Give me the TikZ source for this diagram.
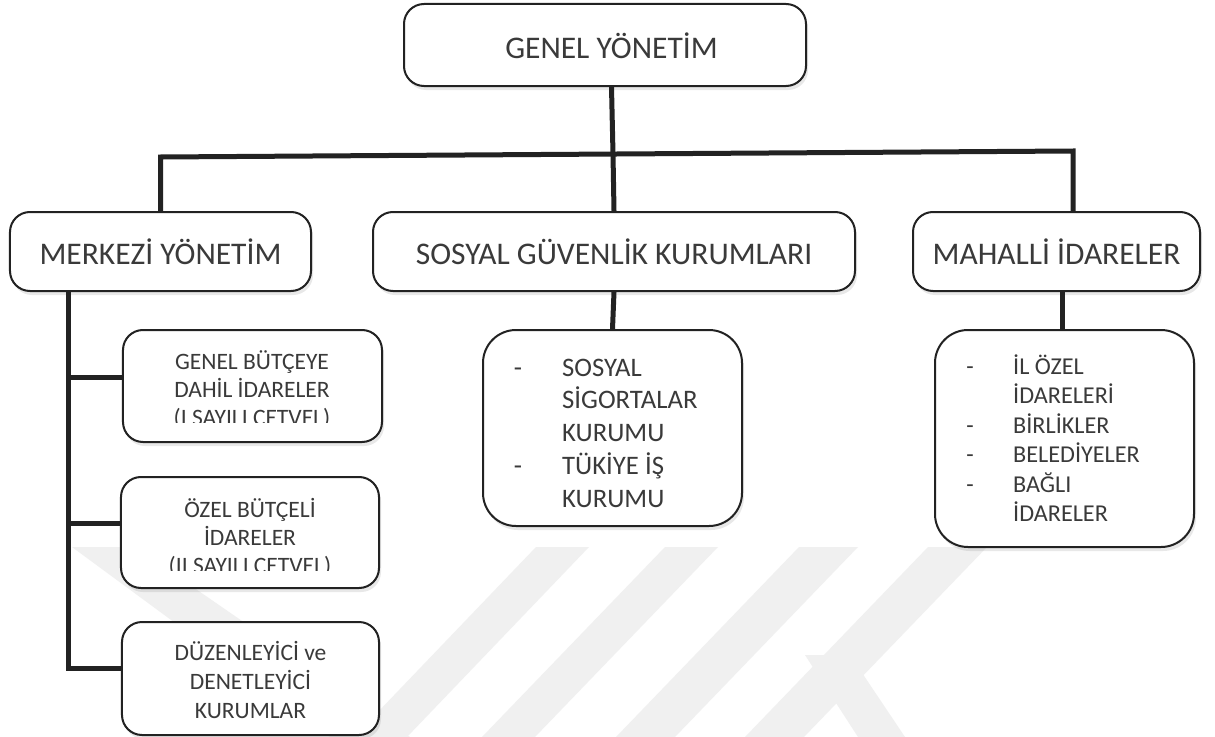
\documentclass[tikz,border=0pt]{standalone}
\usepackage{fontspec}
\setmainfont{Carlito}
\usetikzlibrary{shadows}
\definecolor{linec}{HTML}{222222}
\definecolor{txtc}{HTML}{3A3A3A}
\definecolor{wm}{HTML}{F0F0F0}
\begin{document}
\begin{tikzpicture}[x=1bp,y=-1bp,
  box/.style={draw=linec,line width=2bp,rounded corners=20bp,fill=white,inner sep=0pt,
     drop shadow={shadow xshift=2bp,shadow yshift=-4bp,opacity=0.18}},
  bigbox/.style={box,rounded corners=33bp},
  conn/.style={draw=linec,line width=5bp},
  big/.style={text=txtc,font=\fontsize{31.5bp}{38bp}\selectfont,inner sep=0pt},
  small/.style={text=txtc,font=\fontsize{23.5bp}{28bp}\selectfont,inner sep=0pt,anchor=base},
  sosf/.style={text=txtc,font=\fontsize{26.7bp}{32bp}\selectfont,inner sep=0pt,anchor=base},
  sositem/.style={sosf,anchor=base west},
  mahf/.style={text=txtc,font=\fontsize{24.2bp}{30bp}\selectfont,inner sep=0pt,anchor=base},
  mahitem/.style={mahf,anchor=base west},
  wmark/.style={fill=wm,draw=none},
]
\useasboundingbox[fill=white] (0,0) rectangle (1215,737);

% watermark
\path[wmark] (72,547) -- (135,547) -- (410,737) -- (330,737) -- cycle;
\path[wmark] (536,547) -- (589,547) -- (407,737) -- (354,737) -- cycle;
\path[wmark] (665,547) -- (718,547) -- (535,737) -- (482,737) -- cycle;
\path[wmark] (799,547) -- (858,547) -- (675,737) -- (616,737) -- cycle;
\path[wmark] (928,547) -- (987,547) -- (804,737) -- (745,737) -- cycle;
\path[wmark] (805,655) -- (850,655) -- (905,737) -- (858,737) -- cycle;

% top level
\node[box,minimum width=402bp,minimum height=82bp] (top) at (605,45) {};
\node[big] (topt) at (611.5,46) {GENEL YÖNETİM};

\node[box,minimum width=301bp,minimum height=79bp,big] (mer) at (160.5,251.5) {MERKEZİ YÖNETİM};
\node[box,minimum width=482bp,minimum height=79bp,big] (sos) at (614,251.5) {SOSYAL GÜVENLİK KURUMLARI};
\node[box,minimum width=287bp,minimum height=79bp,big] (mah) at (1056.5,251.5) {MAHALLİ İDARELER};

% sub boxes
\node[box,minimum width=259bp,minimum height=112bp] (gb) at (252.5,386) {};
\node[box,minimum width=258bp,minimum height=111bp] (ob) at (250,532.5) {};
\node[box,minimum width=257bp,minimum height=113bp] (dd) at (250.5,678.5) {};
\node[bigbox,minimum width=259bp,minimum height=196bp] (sosl) at (612.5,428) {};
\node[bigbox,minimum width=259bp,minimum height=217bp] (mahl) at (1064.5,438.5) {};

% texts of left sub boxes
\begin{scope}
\clip (123,330) rectangle (382,422);
\node[small] (gb1) at (252,369) {GENEL BÜTÇEYE};
\node[small] (gb2) at (252,397) {DAHİL İDARELER};
\node[small] (gb3) at (252,425) {(I SAYILI CETVEL)};
\end{scope}
\begin{scope}
\clip (121,477) rectangle (379,570);
\node[small] (ob1) at (250,517) {ÖZEL BÜTÇELİ};
\node[small] (ob2) at (250,545) {İDARELER};
\node[small] (ob3) at (250,573) {(II SAYILI CETVEL)};
\end{scope}
\node[small] (dd1) at (250.5,660) {DÜZENLEYİCİ ve};
\node[small] (dd2) at (250.5,689) {DENETLEYİCİ};
\node[small] (dd3) at (250.5,718) {KURUMLAR};

% list in SOSYAL sub box
\node[sosf] (sd1) at (518,376) {-};
\node[sositem] (si1) at (562,376) {SOSYAL};
\node[sositem] (si2) at (562,408.75) {SİGORTALAR};
\node[sositem] (si3) at (562,441.5) {KURUMU};
\node[sosf] (sd4) at (518,474.25) {-};
\node[sositem] (si4) at (562,474.25) {TÜKİYE İŞ};
\node[sositem] (si5) at (562,507) {KURUMU};

% list in MAHALLI sub box
\node[mahf] (md1) at (970,374) {-};
\node[mahitem] (mi1) at (1013,374) {İL ÖZEL};
\node[mahitem] (mi2) at (1013,403.5) {İDARELERİ};
\node[mahf] (md3) at (970,433) {-};
\node[mahitem] (mi3) at (1013,433) {BİRLİKLER};
\node[mahf] (md4) at (970,462.5) {-};
\node[mahitem] (mi4) at (1013,462.5) {BELEDİYELER};
\node[mahf] (md5) at (970,492) {-};
\node[mahitem] (mi5) at (1013,492) {BAĞLI};
\node[mahitem] (mi6) at (1013,521.5) {İDARELER};

% connectors
\coordinate (bm) at (613,154);
\coordinate (bl) at (160.5,157);
\coordinate (br) at (1073,151);
\draw[conn] (topt |- top.south) -- (bm) -- (sos.north);
\draw[conn] (mer.north) -- (bl) -- (br) -- (br |- mah.north);

\coordinate (lt) at (68,291);
\coordinate (b1) at (68,377);
\coordinate (b2) at (68,523);
\coordinate (lb) at (68,668);
\draw[conn] (lt) -- (lb) -- (lb -| dd.west);
\draw[conn] (b1) -- (b1 -| gb.west);
\draw[conn] (b2) -- (b2 -| ob.west);

\draw[conn] (sos.south) -- (sosl.north);
\coordinate (mx) at (1062,0);
\draw[conn] (mx |- mah.south) -- (mx |- mahl.north);
\end{tikzpicture}
\end{document}
